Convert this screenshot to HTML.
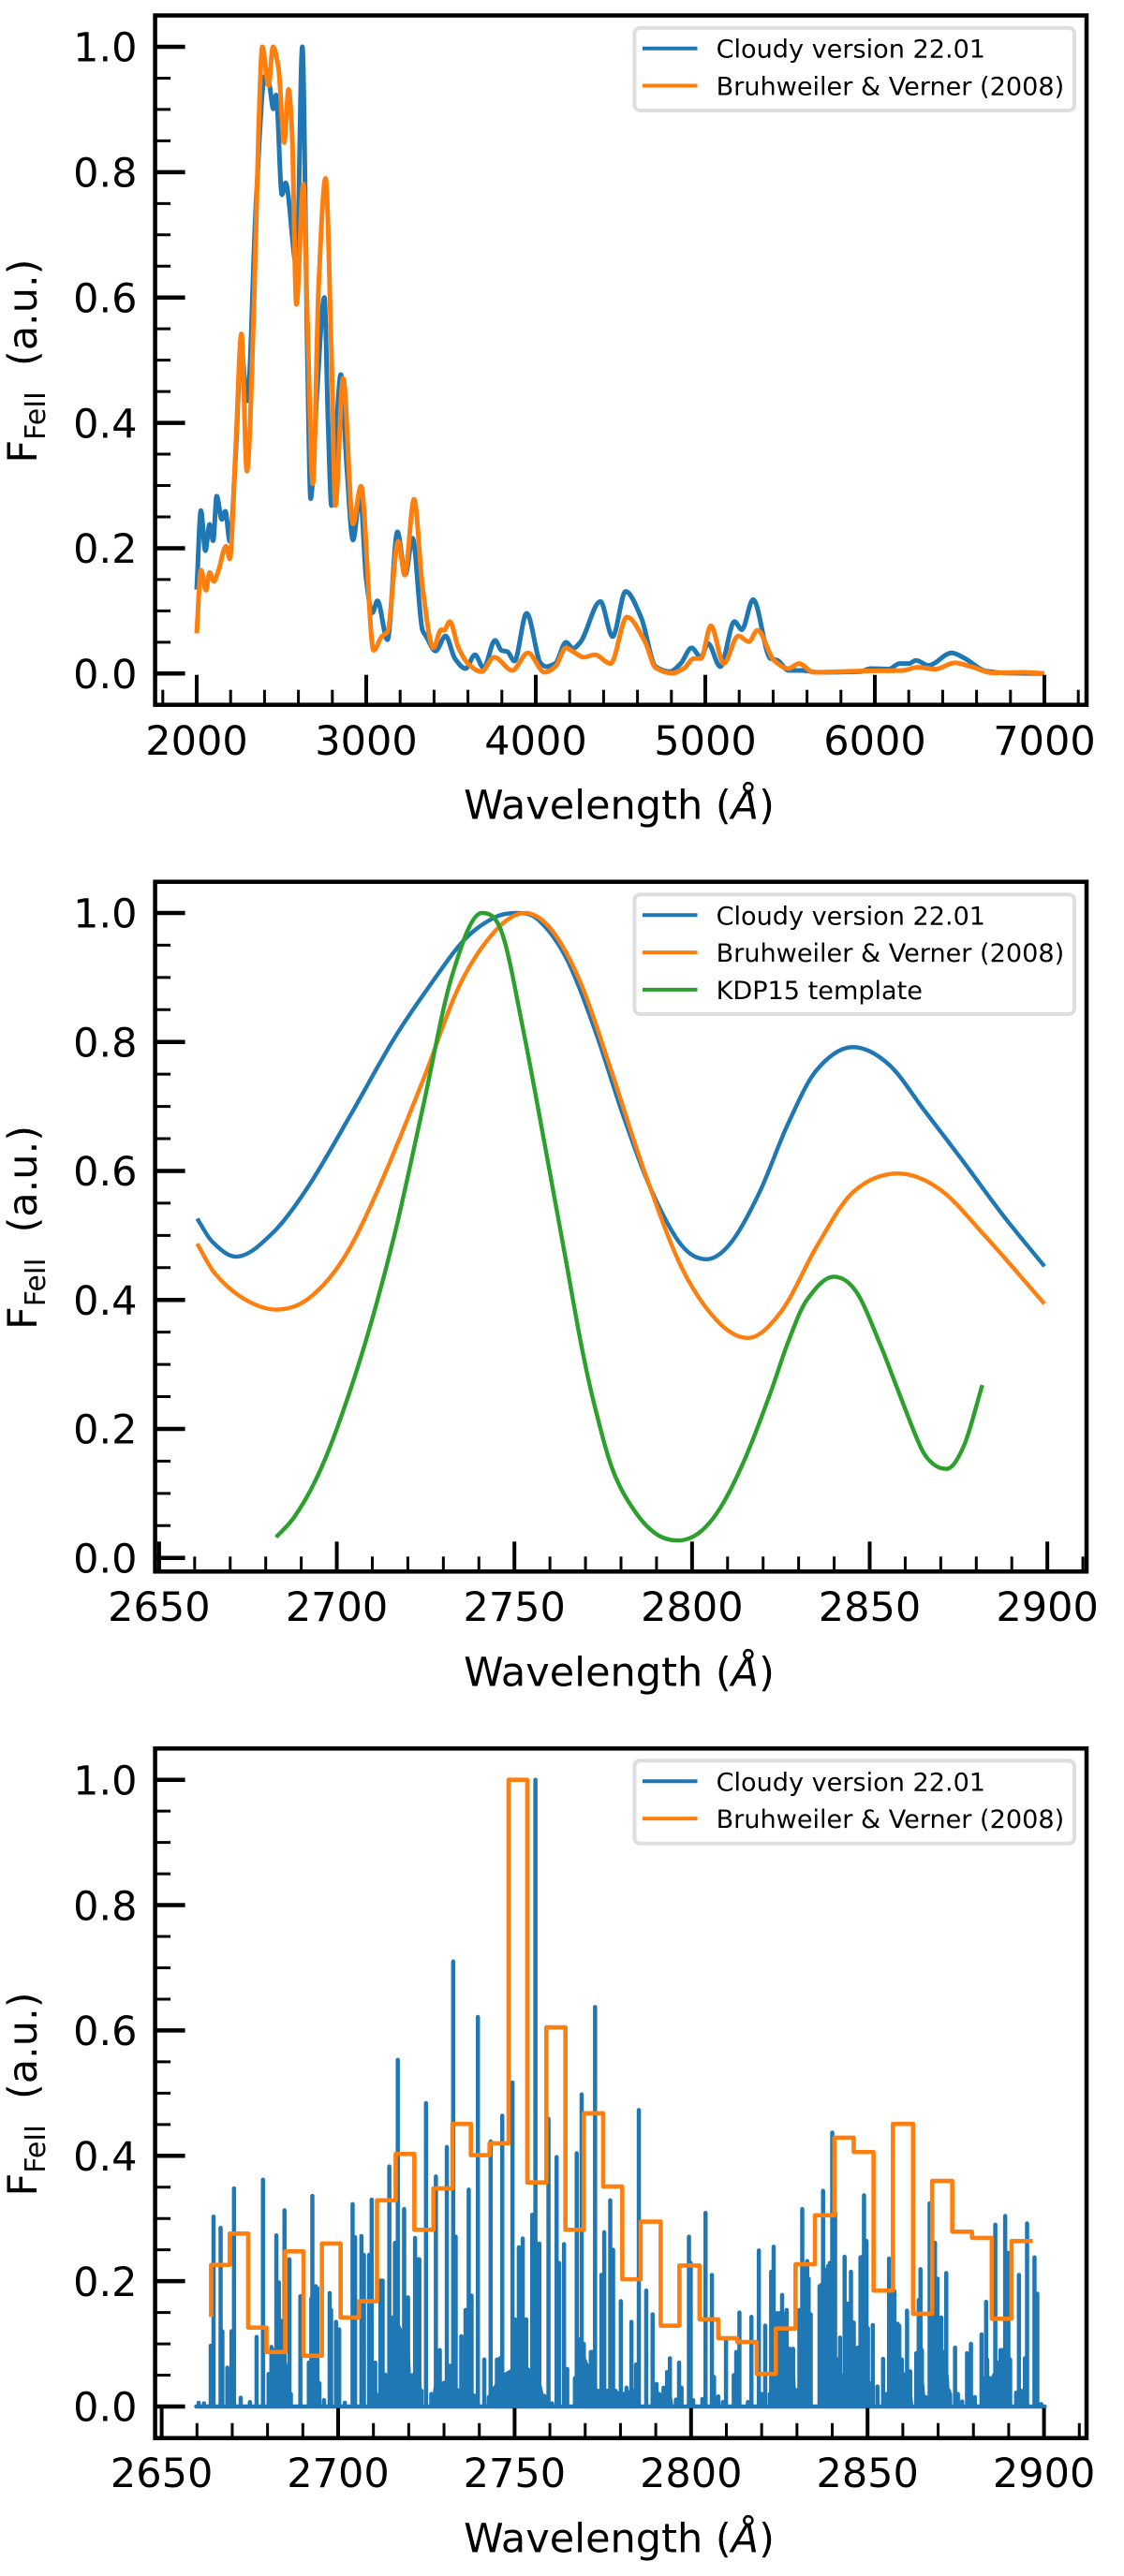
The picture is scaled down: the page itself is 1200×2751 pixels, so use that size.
<!DOCTYPE html>
<html lang="en">
<head>
<meta charset="utf-8">
<title>FeII emission template comparison</title>
<style>
html,body{margin:0;padding:0;background:#fff;}
svg{display:block;font-family:"DejaVu Sans","Liberation Sans",sans-serif;}
</style>
</head>
<body>
<svg id="figure" xmlns="http://www.w3.org/2000/svg" width="1200" height="2751" viewBox="0 0 1200 2751"></svg>
<script>
// ---------- Panel 1: broad template ----------
const broadCloudyWave = [2000,2025,2051,2076,2097,2118,2148,2169,2195,2230,2262,2298,2350,2402,2428,2452,2468,2503,2524,2590,2623,2653,2672,2710,2753,2775,2795,2825,2850,2885,2922,2964,3000,3036,3066,3125,3184,3231,3273,3332,3354,3409,3468,3523,3586,3641,3692,3760,3798,3832,3874,3946,4030,4060,4115,4178,4220,4263,4381,4453,4530,4622,4707,4792,4855,4919,4974,5016,5088,5172,5215,5282,5384,5426,5490,5575,5660,5913,5976,6082,6146,6201,6243,6315,6454,6526,6653,6759,7000];
const broadCloudyFlux = [0.134,0.26,0.196,0.238,0.212,0.283,0.246,0.259,0.211,0.35,0.52,0.435,0.75,0.953,0.94,0.901,0.923,0.764,0.783,0.649,1.0,0.507,0.279,0.45,0.60,0.40,0.268,0.40,0.477,0.33,0.213,0.285,0.15,0.097,0.116,0.054,0.226,0.158,0.216,0.069,0.059,0.036,0.060,0.024,0.008,0.030,0.009,0.053,0.037,0.035,0.020,0.096,0.016,0.011,0.016,0.050,0.040,0.050,0.115,0.059,0.131,0.089,0.011,0.003,0.016,0.041,0.026,0.048,0.011,0.083,0.070,0.118,0.024,0.021,0.005,0.005,0.002,0.003,0.008,0.007,0.016,0.016,0.021,0.013,0.033,0.025,0.004,0.001,0.0];
const broadBruhWave = [2000,2025,2055,2076,2101,2127,2173,2195,2230,2264,2296,2341,2365,2387,2424,2450,2483,2516,2542,2562,2588,2629,2653,2685,2719,2760,2795,2818,2864,2922,2969,3044,3091,3125,3189,3227,3282,3332,3396,3442,3459,3493,3544,3607,3679,3755,3861,3954,4052,4115,4178,4220,4284,4348,4441,4538,4644,4707,4805,4877,4932,4974,5033,5109,5194,5257,5308,5405,5490,5553,5638,5913,6167,6251,6357,6471,6568,6695,6885,7000];
const broadBruhFlux = [0.064,0.165,0.133,0.161,0.147,0.163,0.203,0.183,0.36,0.542,0.323,0.616,0.866,1.0,0.938,1.0,0.965,0.847,0.932,0.866,0.589,0.781,0.567,0.303,0.616,0.79,0.507,0.268,0.471,0.239,0.299,0.037,0.059,0.066,0.211,0.157,0.278,0.138,0.041,0.070,0.069,0.083,0.041,0.014,0.003,0.026,0.005,0.033,0.002,0.011,0.041,0.035,0.026,0.030,0.016,0.090,0.051,0.009,0.0005,0.009,0.024,0.024,0.076,0.016,0.060,0.051,0.069,0.021,0.008,0.016,0.002,0.004,0.005,0.010,0.007,0.017,0.011,0.001,0.002,0.0];
const broadXTicks = [2000,3000,4000,5000,6000,7000];

// ---------- Panel 2: zoomed, convolved ----------
const zoomCloudyWave = [2660.7,2665,2671.6,2682,2692,2704,2716,2726,2736,2744.4,2750.5,2756.6,2764.6,2772.7,2780.8,2788.8,2797,2804,2811,2819,2827,2835,2845.3,2855.4,2865.5,2875.6,2887.7,2899.2];
const zoomCloudyFlux = [0.526,0.49,0.467,0.504,0.576,0.688,0.804,0.886,0.959,0.993,1.0,0.990,0.930,0.818,0.683,0.567,0.485,0.463,0.489,0.567,0.673,0.756,0.792,0.765,0.693,0.620,0.530,0.452];
const zoomBruhWave = [2660.7,2665.7,2673.8,2682.9,2692,2702,2712,2724.3,2734.4,2744.4,2753,2760.6,2768.7,2776.7,2786.8,2797,2807,2815.7,2825.2,2835.3,2845.3,2857.9,2869.6,2881.7,2899.2];
const zoomBruhFlux = [0.487,0.441,0.402,0.385,0.402,0.465,0.576,0.741,0.886,0.971,1.0,0.973,0.891,0.765,0.596,0.451,0.368,0.341,0.383,0.485,0.567,0.596,0.572,0.504,0.394];
const kdpWave = [2682.9,2688,2694,2700,2708.1,2716.2,2724.3,2732.3,2740.8,2746.5,2752.5,2758.6,2764.6,2769,2772.7,2777.7,2783.8,2789.9,2795.9,2802,2808,2815,2822,2827.2,2832.2,2839.9,2846.3,2853.4,2857.4,2864.5,2868,2871.6,2876.6,2881.7];
const kdpFlux = [0.032,0.063,0.120,0.200,0.335,0.500,0.700,0.90,1.0,0.969,0.818,0.639,0.458,0.325,0.233,0.136,0.073,0.037,0.027,0.039,0.078,0.155,0.255,0.337,0.399,0.436,0.412,0.325,0.268,0.170,0.145,0.138,0.175,0.268];
const fineXTicks = [2650,2700,2750,2800,2850,2900];

// ---------- Panel 3: individual lines + binned ----------
const lineWave = [2660.5,2662,2663.9,2664.7,2666.7,2667.2,2668.6,2669.8,2670.5,2672.4,2675,2676.9,2678.7,2680.3,2681.1,2681.7,2682.5,2683.2,2683.7,2684.3,2684.8,2685.3,2686.2,2686.6,2689.3,2691.7,2692.1,2692.4,2692.7,2693.2,2693.6,2694.1,2694.7,2696,2697.6,2698,2699.4,2700.3,2701.9,2704.1,2704.8,2706.6,2707.3,2708.8,2709.5,2710.5,2710.8,2712,2712.6,2713.3,2714.5,2714.9,2715.3,2715.8,2716.1,2716.6,2716.9,2717.3,2718,2718.7,2719.2,2719.8,2720.4,2721,2721.8,2722.5,2723,2723.6,2724.9,2726.4,2727.7,2728.8,2729.7,2730.8,2731.7,2732.6,2733.3,2734.9,2736.1,2737,2737.8,2738.7,2739.6,2741.4,2742.7,2743.2,2743.9,2744.5,2745,2745.9,2746.5,2747.4,2748.1,2748.7,2749.4,2750.1,2750.8,2751.2,2752.3,2753.3,2753.8,2754.5,2755,2755.5,2755.9,2756.3,2757,2758.4,2759.6,2760.6,2761.9,2762.6,2764,2764.9,2767.1,2767.6,2768.3,2768.7,2769,2769.6,2770.3,2771,2771.6,2772.1,2772.8,2773.6,2774.6,2775.4,2776.3,2777.1,2777.9,2778.6,2779,2780.1,2781.7,2783.1,2784.4,
2785.2,2787.3,2789.1,2790.2,2791,2792.2,2793.2,2794,2795.7,2796.6,2797.3,2799.4,2799.9,2800.6,2803.2,2804.1,2805.9,2806.5,2807.7,2809,2809.9,2812.1,2812.8,2813.7,2816.1,2817.1,2819.2,2820,2821,2822.3,2822.7,2823.2,2823.4,2823.9,2824.5,2825.2,2825.8,2826.5,2827.1,2828,2828.4,2828.9,2830,2830.7,2831.5,2832,2832.9,2833.3,2833.9,2836.4,2836.9,2837.4,2838.2,2838.8,2839.3,2840,2840.8,2841.3,2842.2,2842.6,2843.5,2844.4,2845.3,2846.1,2847.2,2848,2848.5,2849,2849.7,2850.1,2850.6,2851.5,2852.8,2854.4,2855.4,2856.1,2856.5,2857,2857.6,2858.5,2859,2859.7,2861.2,2862.1,2863.8,2864.1,2864.5,2865,2865.4,2866.5,2867.6,2868.3,2868.7,2869.1,2869.8,2870.5,2870.9,2871.5,2871.8,2872.3,2873.1,2873.4,2874.8,2875.6,2876.8,2878.2,2879.3,2880.4,2882.3,2882.9,2883.6,2883.9,2884.6,2885.2,2885.8,2886.2,2886.8,2887.3,2887.7,2888.2,2888.6,2889,2889.5,2889.9,2890.4,2892.1,2892.9,2893.6,2894.6,2895.2,2897.3,2898.1,2899.2];
const lineFlux = [0.006,0.005,0.097,0.303,0.285,0.120,0.062,0.120,0.348,0.014,0.007,0.111,0.362,0.052,0.095,0.090,0.273,0.198,0.137,0.095,0.313,0.025,0.235,0.020,0.176,0.070,0.070,0.172,0.336,0.184,0.192,0.189,0.037,0.010,0.181,0.154,0.135,0.123,0.006,0.323,0.270,0.272,0.242,0.242,0.330,0.070,0.020,0.201,0.201,0.051,0.383,0.139,0.142,0.139,0.261,0.125,0.553,0.087,0.087,0.315,0.174,0.174,0.020,0.050,0.269,0.235,0.235,0.025,0.484,0.020,0.367,0.090,0.037,0.414,0.065,0.710,0.271,0.112,0.154,0.346,0.177,0.012,0.6215,0.075,0.015,0.423,0.010,0.022,0.075,0.077,0.464,0.045,0.052,0.050,0.517,0.139,0.110,0.254,0.268,0.139,0.032,0.050,0.306,0.304,1.0,0.035,0.260,0.017,0.459,0.005,0.398,0.229,0.259,0.060,0.045,0.404,0.107,0.107,0.498,0.100,0.062,0.050,0.087,0.087,0.6375,0.025,0.210,0.278,0.025,0.329,0.250,0.025,0.022,0.168,0.030,0.135,0.067,
0.473,0.185,0.147,0.036,0.020,0.030,0.055,0.077,0.011,0.070,0.030,0.271,0.229,0.010,0.012,0.309,0.210,0.047,0.016,0.007,0.105,0.050,0.087,0.150,0.007,0.143,0.249,0.020,0.129,0.020,0.215,0.075,0.255,0.144,0.149,0.149,0.178,0.147,0.154,0.092,0.090,0.092,0.026,0.154,0.315,0.224,0.232,0.204,0.147,0.192,0.194,0.344,0.218,0.224,0.229,0.437,0.309,0.075,0.110,0.050,0.239,0.164,0.215,0.134,0.094,0.238,0.239,0.337,0.264,0.125,0.037,0.130,0.032,0.076,0.020,0.236,0.234,0.184,0.184,0.132,0.129,0.075,0.153,0.056,0.085,0.085,0.170,0.219,0.090,0.015,0.324,0.204,0.139,0.261,0.204,0.139,0.142,0.087,0.085,0.213,0.025,0.020,0.094,0.020,0.008,0.085,0.100,0.015,0.115,0.045,0.167,0.075,0.045,0.045,0.050,0.290,0.070,0.070,0.090,0.090,0.090,0.304,0.244,0.245,0.075,0.022,0.210,0.025,0.077,0.292,0.238,0.180,0.004];
// solid blended floor beneath the densest line clusters
const blendWave = [2680,2680.5,2685.5,2686.6,2687,2691.3,2691.8,2694.4,2695,2713.8,2714.4,2717.5,2720.2,2720.8,2723.5,2724.2,2726.5,2727,2732.4,2733.5,2739,2739.4,2742,2742.6,2746,2752,2757,2758.6,2759,2767,2767.6,2770,2772.3,2773,2779,2784.7,2785,2789.6,2790,2791.5,2794.5,2795,2822.3,2822.8,2829,2829.8,2830.5,2831,2834,2834.5,2836,2836.5,2840.5,2841.3,2846,2846.8,2850,2850.6,2851.2,2855.4,2856,2860,2862.5,2863,2863.7,2864.2,2866,2866.6,2867.3,2867.8,2873,2873.5,2882,2882.5,2890.6,2891];
const blendFlux = [0,0.05,0.07,0.03,0,0,0.07,0.10,0,0,0.10,0.13,0.10,0.03,0.04,0,0,0.03,0.05,0.03,0.02,0,0,0.02,0.05,0.07,0.05,0.01,0,0,0.06,0.08,0.05,0.02,0.02,0.03,0,0,0.02,0.01,0.02,0,0,0.08,0.09,0.02,0.03,0.12,0.12,0,0,0.16,0.20,0.04,0.03,0.08,0.10,0.02,0,0,0.10,0.06,0.03,0,0,0.08,0.04,0,0,0.10,0.05,0,0,0.04,0.05,0];
const baselineRange = [2659.8,2900.2];
const binEdges = [2664,2664,2669.3,2674.5,2679.7,2685,2690.2,2695.4,2700.7,2705.9,2711,2716.3,2721.6,2727,2732.4,2737.6,2742.9,2748.3,2753.6,2759,2764.4,2769.6,2775.1,2780.5,2785.7,2791.4,2796.7,2802.4,2807.7,2813.1,2818.6,2824,2829.6,2835.1,2840.6,2846.1,2851.7,2857.2,2862.9,2868.3,2874,2879.6,2885.2,2890.8,2896.8];
const binFlux = [0.143,0.226,0.276,0.126,0.087,0.2475,0.081,0.260,0.142,0.168,0.329,0.403,0.282,0.348,0.451,0.401,0.420,1.0,0.3575,0.605,0.282,0.468,0.351,0.203,0.295,0.129,0.225,0.139,0.109,0.103,0.052,0.1245,0.227,0.305,0.429,0.406,0.185,0.451,0.148,0.360,0.279,0.269,0.140,0.264];

const yTicks = [0.0,0.2,0.4,0.6,0.8,1.0];
const yTickLabels = ['0.0','0.2','0.4','0.6','0.8','1.0'];

const legendCloudy = 'Cloudy version 22.01';
const legendBruh = 'Bruhweiler & Verner (2008)';
const legendKdp = 'KDP15 template';

const BLUE = '#1f77b4', ORANGE = '#ff7f0e', GREEN = '#2ca02c';
const NS = 'http://www.w3.org/2000/svg';
const fig = document.getElementById('figure');
const LEFT = 165.6, RIGHT = 1160;
const LABEL_SIZE = 43;

function el(parent, tag, attrs, text) {
  const e = document.createElementNS(NS, tag);
  for (const k in attrs) e.setAttribute(k, attrs[k]);
  if (text !== undefined) e.textContent = text;
  parent.appendChild(e);
  return e;
}

// cubic path: extrema stay at the read values; 'soft' uses central-difference tangents for smooth curves
function smoothPath(xs, ys, soft) {
  const n = xs.length, d = [], m = [];
  for (let i = 0; i < n - 1; i++) d.push((ys[i + 1] - ys[i]) / (xs[i + 1] - xs[i]));
  m.push(d[0]);
  for (let i = 1; i < n - 1; i++) {
    if (d[i - 1] * d[i] <= 0) m.push(0);
    else if (soft) m.push((ys[i + 1] - ys[i - 1]) / (xs[i + 1] - xs[i - 1]));
    else {
      const h0 = xs[i] - xs[i - 1], h1 = xs[i + 1] - xs[i];
      m.push(3 * (h0 + h1) / ((2 * h1 + h0) / d[i - 1] + (h1 + 2 * h0) / d[i]));
    }
  }
  m.push(d[n - 2]);
  let p = 'M' + xs[0].toFixed(2) + ' ' + ys[0].toFixed(2);
  for (let i = 0; i < n - 1; i++) {
    const h = (xs[i + 1] - xs[i]) / 3;
    p += 'C' + (xs[i] + h).toFixed(2) + ' ' + (ys[i] + m[i] * h).toFixed(2) + ' ' +
         (xs[i + 1] - h).toFixed(2) + ' ' + (ys[i + 1] - m[i + 1] * h).toFixed(2) + ' ' +
         xs[i + 1].toFixed(2) + ' ' + ys[i + 1].toFixed(2);
  }
  return p;
}

function drawCurve(g, name, wave, flux, sx, sy, color, width, soft) {
  const path = el(g, 'path', {d: smoothPath(wave.map(sx), flux.map(sy), soft), fill: 'none', stroke: color, 'stroke-width': width, 'stroke-linejoin': 'round'});
  
  
}

function drawAxes(g, cfg) {
  const {top, bottom, sx, sy, xTicks, xMinorFrom, xMinorTo, xMinorStep, xLabelBase} = cfg;
  // x ticks
  const xt = el(g, 'g', {});
  
  
  for (let v = xMinorFrom; v <= xMinorTo + 1e-6; v += xMinorStep) {
    if (xTicks.includes(v)) continue;
    el(xt, 'line', {x1: sx(v), x2: sx(v), y1: bottom, y2: bottom - 16, stroke: '#000', 'stroke-width': 3});
  }
  xTicks.forEach(function (v) {
    el(xt, 'line', {x1: sx(v), x2: sx(v), y1: bottom, y2: bottom - 32, stroke: '#000', 'stroke-width': 4});
    const lab = el(g, 'text', {x: sx(v), y: xLabelBase, 'text-anchor': 'middle', 'font-size': LABEL_SIZE, fill: '#000'}, String(v));
    
    
  });
  // y ticks
  const yt = el(g, 'g', {});
  
  
  for (let i = 0; i <= 20; i++) {
    if (i % 4 === 0) continue;
    const v = i * 0.05;
    el(yt, 'line', {x1: LEFT, x2: LEFT + 16.5, y1: sy(v), y2: sy(v), stroke: '#000', 'stroke-width': 3});
  }
  yTicks.forEach(function (v, i) {
    el(yt, 'line', {x1: LEFT, x2: LEFT + 32, y1: sy(v), y2: sy(v), stroke: '#000', 'stroke-width': 4.5});
    const lab = el(g, 'text', {x: 146.5, y: sy(v) + 15.7, 'text-anchor': 'end', 'font-size': LABEL_SIZE, fill: '#000'}, yTickLabels[i]);
    
    
  });
  // spines
  const frame = el(g, 'rect', {x: LEFT, y: top, width: RIGHT - LEFT, height: bottom - top, fill: 'none', stroke: '#000', 'stroke-width': 4.5});
  
  
  // x label
  const xl = el(g, 'text', {x: 661, y: bottom + 122, 'text-anchor': 'middle', 'font-size': LABEL_SIZE, fill: '#000'});
  
  
  el(xl, 'tspan', {}, 'Wavelength (');
  el(xl, 'tspan', {'font-style': 'italic'}, 'Å');
  el(xl, 'tspan', {}, ')');
  // y label
  const cy = (top + bottom) / 2 + 1;
  const yl = el(g, 'text', {transform: 'translate(39,' + cy + ') rotate(-90)', x: 0, y: 0, 'text-anchor': 'middle', 'font-size': LABEL_SIZE, fill: '#000'});
  
  
  el(yl, 'tspan', {}, 'F');
  el(yl, 'tspan', {'font-size': 30, dy: 9}, 'FeII');
  el(yl, 'tspan', {dy: -9, dx: 27}, '(a.u.)');
}

function drawLegend(g, boxTop, boxBottom, entries) {
  const lg = el(g, 'g', {});
  
  
  el(lg, 'rect', {x: 677.4, y: boxTop + 2, width: 469.6, height: boxBottom - boxTop - 4, rx: 6, fill: '#fff', stroke: '#dddedd', 'stroke-width': 4});
  entries.forEach(function (en, i) {
    const ly = boxTop + 24 + i * 39.8;
    const entry = el(lg, 'g', {});
    
    
    el(entry, 'line', {x1: 686, x2: 744.5, y1: ly, y2: ly, stroke: en.color, 'stroke-width': 4});
    el(entry, 'text', {x: 764.6, y: ly + 10, 'font-size': 27.1, fill: '#000'}, en.label);
  });
}

// Panel 1
(function () {
  const sx = v => 210 + (v - 2000) * 0.181;
  const sy = v => 719.3 - 669.3 * v;
  const g = el(fig, 'g', {});
  
  
  drawCurve(g, 'cloudy-line', broadCloudyWave, broadCloudyFlux, sx, sy, BLUE, 5, false);
  drawCurve(g, 'bruhweiler-verner-line', broadBruhWave, broadBruhFlux, sx, sy, ORANGE, 5, false);
  drawAxes(g, {top: 16.5, bottom: 752.7, sx, sy, xTicks: broadXTicks, xMinorFrom: 1800, xMinorTo: 7200, xMinorStep: 200, xLabelBase: 806});
  drawLegend(g, 27.7, 120, [{color: BLUE, label: legendCloudy}, {color: ORANGE, label: legendBruh}]);
})();

// Panel 2
(function () {
  const sx = v => 169.9 + (v - 2650) * 3.793;
  const sy = v => 1663.7 - 688.7 * v;
  const g = el(fig, 'g', {});
  
  
  drawCurve(g, 'cloudy-line', zoomCloudyWave, zoomCloudyFlux, sx, sy, BLUE, 4.4, true);
  drawCurve(g, 'bruhweiler-verner-line', zoomBruhWave, zoomBruhFlux, sx, sy, ORANGE, 4.4, true);
  drawCurve(g, 'kdp15-template-line', kdpWave, kdpFlux, sx, sy, GREEN, 4.4, true);
  drawAxes(g, {top: 941.7, bottom: 1678.3, sx, sy, xTicks: fineXTicks, xMinorFrom: 2650, xMinorTo: 2910, xMinorStep: 10, xLabelBase: 1731});
  drawLegend(g, 953.3, 1085, [{color: BLUE, label: legendCloudy}, {color: ORANGE, label: legendBruh}, {color: GREEN, label: legendKdp}]);
})();

// Panel 3
(function () {
  const sx = v => 172.6 + (v - 2650) * 3.768;
  const sy = v => 2570 - 669.3 * v;
  const g = el(fig, 'g', {});
  
  
  let b = 'M' + sx(blendWave[0]).toFixed(2) + ' ' + sy(0).toFixed(2);
  blendWave.forEach(function (w, i) {
    b += 'L' + sx(w).toFixed(2) + ' ' + sy(blendFlux[i]).toFixed(2);
  });
  b += 'L' + sx(blendWave[blendWave.length - 1]).toFixed(2) + ' ' + sy(0).toFixed(2) + 'Z';
  const blend = el(g, 'path', {d: b, fill: BLUE, stroke: 'none'});
  
  
  let d = 'M' + sx(baselineRange[0]).toFixed(2) + ' ' + sy(0).toFixed(2) + 'L' + sx(baselineRange[1]).toFixed(2) + ' ' + sy(0).toFixed(2);
  lineWave.forEach(function (w, i) {
    d += 'M' + sx(w).toFixed(2) + ' ' + sy(0).toFixed(2) + 'L' + sx(w).toFixed(2) + ' ' + sy(lineFlux[i]).toFixed(2);
  });
  const lines = el(g, 'path', {d: d, fill: 'none', stroke: BLUE, 'stroke-width': 4.5, 'stroke-linecap': 'round'});
  
  
  let s = '';
  binFlux.forEach(function (f, i) {
    s += (i === 0 ? 'M' : 'L') + sx(binEdges[i]).toFixed(2) + ' ' + sy(f).toFixed(2);
    s += 'L' + sx(binEdges[i + 1]).toFixed(2) + ' ' + sy(f).toFixed(2);
  });
  const steps = el(g, 'path', {d: s, fill: 'none', stroke: ORANGE, 'stroke-width': 4.6, 'stroke-linejoin': 'round'});
  
  
  drawAxes(g, {top: 1867.3, bottom: 2603.7, sx, sy, xTicks: fineXTicks, xMinorFrom: 2650, xMinorTo: 2910, xMinorStep: 10, xLabelBase: 2656});
  drawLegend(g, 1878.3, 1970.7, [{color: BLUE, label: legendCloudy}, {color: ORANGE, label: legendBruh}]);
})();
</script>
</body>
</html>
